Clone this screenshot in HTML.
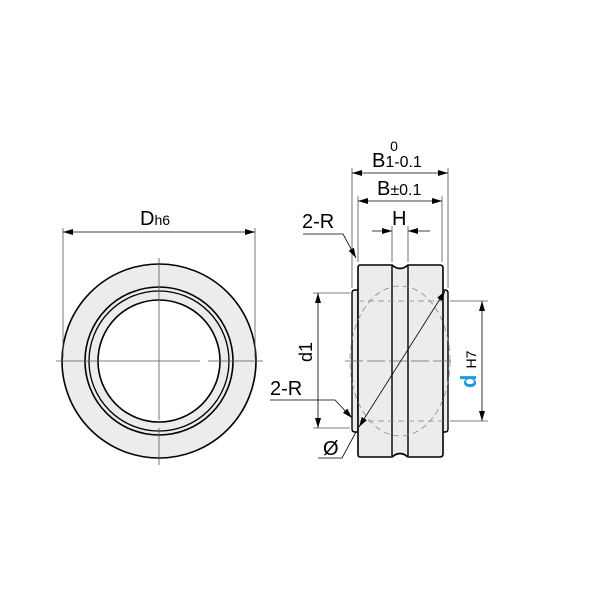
<!DOCTYPE html>
<html><head><style>body{margin:0;background:#fff}svg{display:block}</style></head><body>
<svg width="600" height="600" viewBox="0 0 600 600" xmlns="http://www.w3.org/2000/svg" font-family="Liberation Sans, sans-serif">
<defs>
<marker id="a" viewBox="0 0 10 6" refX="10" refY="3" markerWidth="10" markerHeight="6" orient="auto-start-reverse" markerUnits="userSpaceOnUse"><path d="M0,0L10,3L0,6z" fill="#000"/></marker>
</defs>
<!-- left view -->
<circle cx="159" cy="361" r="97" fill="#ececec" stroke="#000" stroke-width="1.6"/>
<circle cx="159" cy="361" r="74" fill="#ececec" stroke="#000" stroke-width="1.6"/>
<circle cx="159" cy="361" r="70" fill="#ececec" stroke="#000" stroke-width="1.3"/>
<circle cx="159" cy="361" r="61" fill="#fff" stroke="#000" stroke-width="1.6"/>
<g stroke="#555" stroke-width="0.8">
<line x1="159" y1="258" x2="159" y2="420"/><line x1="159" y1="428" x2="159" y2="465"/>
<line x1="56" y1="361" x2="200" y2="361"/><line x1="208" y1="361" x2="263" y2="361"/>
<line x1="63" y1="228" x2="63" y2="358"/><line x1="255" y1="228" x2="255" y2="358"/>
</g>
<line x1="63" y1="232" x2="255" y2="232" stroke="#000" stroke-width="0.8" marker-start="url(#a)" marker-end="url(#a)"/>
<text x="140" y="225" font-size="20">D<tspan font-size="14">h6</tspan></text>
<!-- right view -->
<path d="M352,293 Q352,290 355,290 L358,290 L358,432 L355,432 Q352,432 352,429Z" fill="#ececec" stroke="#000" stroke-width="1.4"/>
<path d="M448,293 Q448,290 445,290 L442,290 L442,432 L445,432 Q448,432 448,429Z" fill="#ececec" stroke="#000" stroke-width="1.4"/>
<path d="M360,265 L392,265 Q400,272 408,265 L440,265 Q443,265 443,268 L443,454 Q443,457 440,457 L408,457 Q400,450 392,457 L360,457 Q358,457 358,454 L358,268 Q358,265 360,265Z" fill="#ececec" stroke="#000" stroke-width="1.6"/>
<line x1="392" y1="266" x2="392" y2="456" stroke="#000" stroke-width="1.4"/>
<line x1="408" y1="266" x2="408" y2="456" stroke="#000" stroke-width="1.4"/>
<g stroke="#888" stroke-width="0.8" stroke-dasharray="6,4" fill="none">
<ellipse cx="400" cy="361" rx="50" ry="75"/>
<line x1="358" y1="301" x2="443" y2="301"/><line x1="358" y1="421" x2="443" y2="421"/>
</g>
<line x1="345" y1="361" x2="454" y2="361" stroke="#666" stroke-width="0.8" stroke-dasharray="18,4"/>
<g stroke="#555" stroke-width="0.8">
<line x1="352" y1="168" x2="352" y2="288"/><line x1="448" y1="168" x2="448" y2="288"/>
<line x1="358" y1="196" x2="358" y2="262"/><line x1="442" y1="196" x2="442" y2="262"/>
<line x1="392" y1="226" x2="392" y2="262"/><line x1="408" y1="226" x2="408" y2="262"/>
<line x1="313" y1="293" x2="350" y2="293"/><line x1="313" y1="428" x2="350" y2="428"/>
<line x1="450" y1="301" x2="488" y2="301"/><line x1="450" y1="421" x2="488" y2="421"/>
</g>
<g stroke="#000" stroke-width="0.8">
<line x1="352" y1="173" x2="448" y2="173" marker-start="url(#a)" marker-end="url(#a)"/>
<line x1="358" y1="201" x2="442" y2="201" marker-start="url(#a)" marker-end="url(#a)"/>
<line x1="372" y1="231" x2="392" y2="231" marker-end="url(#a)"/>
<line x1="430" y1="231" x2="408" y2="231" marker-end="url(#a)"/>
<line x1="318" y1="293" x2="318" y2="428" marker-start="url(#a)" marker-end="url(#a)"/>
<line x1="482" y1="301" x2="482" y2="421" marker-start="url(#a)" marker-end="url(#a)"/>
<line x1="445" y1="291" x2="359" y2="427" marker-start="url(#a)" marker-end="url(#a)"/>
<polyline points="303,234 343,234 356,258" fill="none" marker-end="url(#a)"/>
<polyline points="270,400 335,400 352,418" fill="none" marker-end="url(#a)"/>
<polyline points="318,458 342,458 356,432" fill="none"/>
</g>
<text x="394" y="151" font-size="14" text-anchor="middle">0</text>
<text x="372" y="167" font-size="20">B<tspan font-size="16">1-0.1</tspan></text>
<text x="377" y="195" font-size="20">B<tspan font-size="16">±0.1</tspan></text>
<text x="392" y="225" font-size="20">H</text>
<text x="302" y="228" font-size="20">2-R</text>
<text x="270" y="395" font-size="20">2-R</text>
<text x="323" y="455" font-size="20">Ø</text>
<text transform="translate(312,362) rotate(-90)" font-size="18">d1</text>
<text transform="translate(476,388) rotate(-90)" font-size="22" font-weight="bold" fill="#1a9be0">d <tspan font-size="14" font-weight="normal" fill="#000">H7</tspan></text>
</svg>
</body></html>
